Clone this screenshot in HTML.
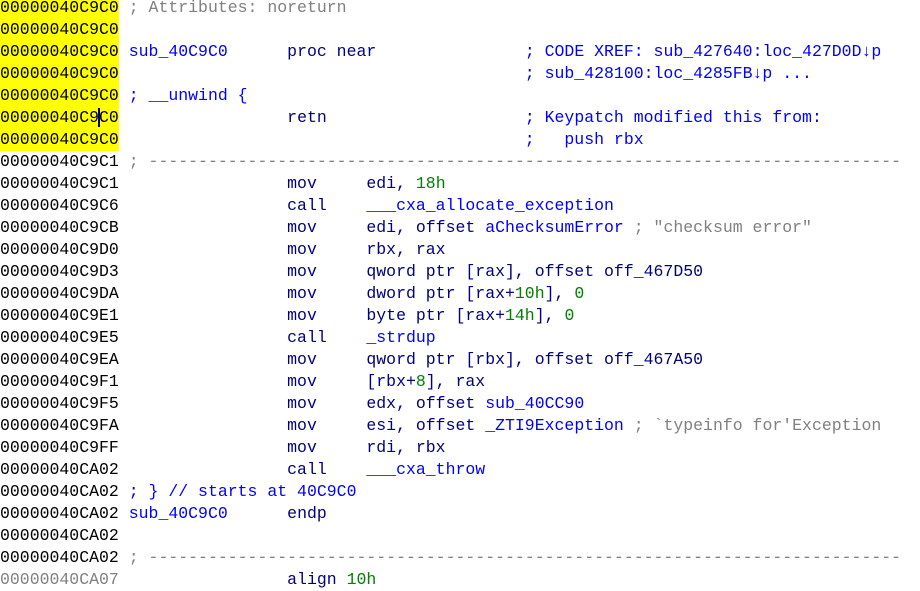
<!DOCTYPE html>
<html><head><meta charset="utf-8"><style>
html,body{margin:0;padding:0;background:#fff;width:920px;height:584px;overflow:hidden}
#c{position:absolute;left:0;top:-3px;font-family:"Liberation Mono",monospace;font-size:16.5px;line-height:22px;color:#000080}
.l{height:22px;white-space:pre}
.a{color:#000}
.y{background:#ffff00;display:inline-block;height:22px;vertical-align:top}
.b{color:#0000ff}
.g{color:#008000}
.r{color:#808080}
.cur{border-left:2px solid #000080;margin-left:-1px;margin-right:-1px}
</style></head><body><div id="c"><div class="l"><span class="a y">00000040C9C0</span> <span class="r">; Attributes: noreturn</span></div><div class="l"><span class="a y">00000040C9C0</span></div><div class="l"><span class="a y">00000040C9C0</span> <span class="b">sub_40C9C0</span>      proc near               <span class="b">; CODE XREF: sub_427640:loc_427D0D↓p</span></div><div class="l"><span class="a y">00000040C9C0</span>                                         <span class="b">; sub_428100:loc_4285FB↓p ...</span></div><div class="l"><span class="a y">00000040C9C0</span> <span class="b">; __unwind {</span></div><div class="l"><span class="a y">00000040C9<span class="cur"></span>C0</span>                 retn                    <span class="b">; Keypatch modified this from:</span></div><div class="l"><span class="a y">00000040C9C0</span>                                         <span class="b">;   push rbx</span></div><div class="l"><span class="a">00000040C9C1</span> <span class="r">; ----------------------------------------------------------------------------</span></div><div class="l"><span class="a">00000040C9C1</span>                 mov     edi, <span class="g">18h</span></div><div class="l"><span class="a">00000040C9C6</span>                 call    <span class="b">___cxa_allocate_exception</span></div><div class="l"><span class="a">00000040C9CB</span>                 mov     edi, offset <span class="b">aChecksumError</span> <span class="r">; "checksum error"</span></div><div class="l"><span class="a">00000040C9D0</span>                 mov     rbx, rax</div><div class="l"><span class="a">00000040C9D3</span>                 mov     qword ptr [rax], offset off_467D50</div><div class="l"><span class="a">00000040C9DA</span>                 mov     dword ptr [rax+<span class="g">10h</span>], <span class="g">0</span></div><div class="l"><span class="a">00000040C9E1</span>                 mov     byte ptr [rax+<span class="g">14h</span>], <span class="g">0</span></div><div class="l"><span class="a">00000040C9E5</span>                 call    <span class="b">_strdup</span></div><div class="l"><span class="a">00000040C9EA</span>                 mov     qword ptr [rbx], offset off_467A50</div><div class="l"><span class="a">00000040C9F1</span>                 mov     [rbx+<span class="g">8</span>], rax</div><div class="l"><span class="a">00000040C9F5</span>                 mov     edx, offset <span class="b">sub_40CC90</span></div><div class="l"><span class="a">00000040C9FA</span>                 mov     esi, offset <span class="b">_ZTI9Exception</span> <span class="r">; `typeinfo for'Exception</span></div><div class="l"><span class="a">00000040C9FF</span>                 mov     rdi, rbx</div><div class="l"><span class="a">00000040CA02</span>                 call    <span class="b">___cxa_throw</span></div><div class="l"><span class="a">00000040CA02</span> <span class="b">; } // starts at 40C9C0</span></div><div class="l"><span class="a">00000040CA02</span> <span class="b">sub_40C9C0</span>      endp</div><div class="l"><span class="a">00000040CA02</span></div><div class="l"><span class="a">00000040CA02</span> <span class="r">; ----------------------------------------------------------------------------</span></div><div class="l"><span class="r">00000040CA07</span>                 align <span class="g">10h</span></div></div></body></html>
